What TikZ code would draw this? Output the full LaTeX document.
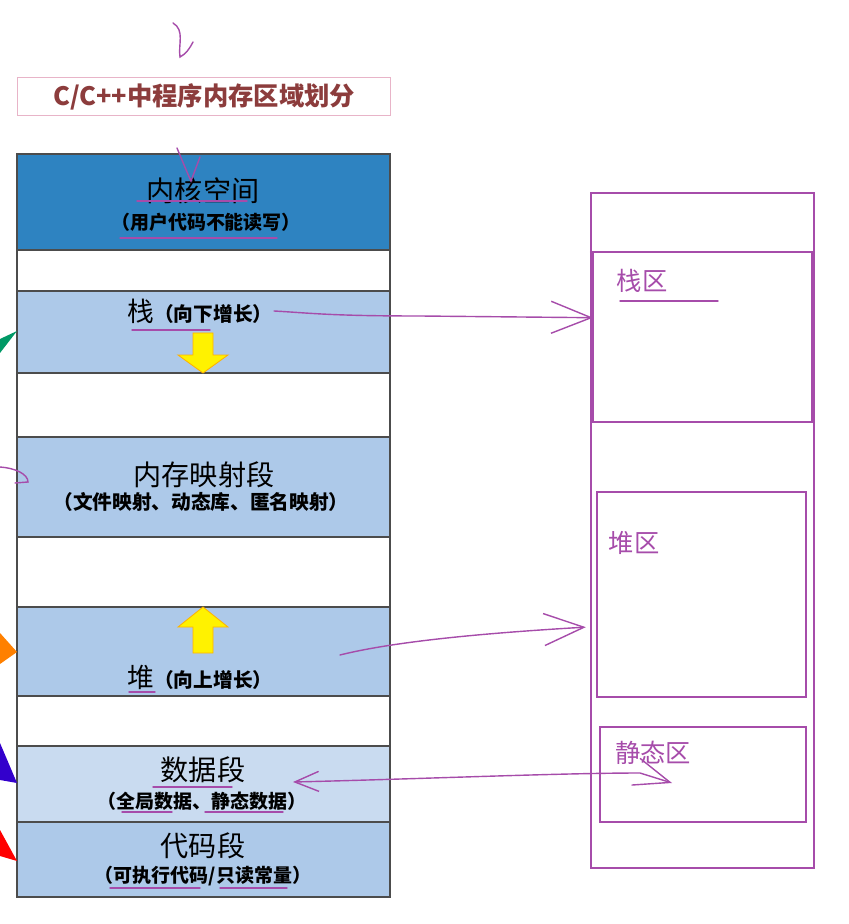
\documentclass[tikz,border=0pt]{standalone}
\usepackage{fontspec}
\setmainfont{Noto Sans CJK SC}
\usetikzlibrary{arrows.meta,positioning}
\definecolor{kernelblue}{RGB}{46,131,193}
\definecolor{segblue}{RGB}{173,201,233}
\definecolor{datablue}{RGB}{201,219,240}
\definecolor{pen}{RGB}{166,76,170}
\definecolor{titlered}{RGB}{140,60,60}
\definecolor{titlepink}{RGB}{232,180,200}

\begin{document}
\begin{tikzpicture}[x=0.025cm,y=-0.025cm,
  seg/.style={draw=black!70,line width=1pt,inner sep=0pt,outer sep=0pt,
    minimum width=9.325cm,minimum height=#1*0.025cm},
  zone/.style={draw=pen,line width=1.5pt,anchor=north west,inner sep=0pt,outer sep=0pt},
  big/.style={inner sep=1pt,font=\fontsize{20}{24}\selectfont},
  sub/.style={inner sep=1pt,font=\bfseries\fontsize{13.5}{16}\selectfont},
  zonetxt/.style={text=pen,inner sep=1pt,font=\fontsize{18}{22}\selectfont},
  growarrow/.style={fill=yellow,draw=orange!60!yellow,line width=0.6pt},
  pen/.style={draw=pen,line width=1pt,line cap=round},
  barb/.style={pen,-{Straight Barb[length=10mm,width=8mm]}}
]
\useasboundingbox (0,0) rectangle (848,924);

% title
\node[draw=titlepink,line width=0.8pt,anchor=north west,minimum width=9.325cm,
  minimum height=0.95cm,text=titlered,font=\bfseries\fontsize{18}{21}\selectfont]
  (title) at (17,77) {C/C++中程序内存区域划分};

% left column: the segments
\node[seg=96,fill=kernelblue,anchor=north west] (kernel) at (17,154) {};
\node[seg=41,below=0pt of kernel] (gapa) {};
\node[seg=82,fill=segblue,below=0pt of gapa] (stack) {};
\node[seg=64,below=0pt of stack] (gapb) {};
\node[seg=100,fill=segblue,below=0pt of gapb] (mmap) {};
\node[seg=70,below=0pt of mmap] (gapc) {};
\node[seg=89,fill=segblue,below=0pt of gapc] (heap) {};
\node[seg=50,below=0pt of heap] (gapd) {};
\node[seg=76,fill=datablue,below=0pt of gapd] (data) {};
\node[seg=75,fill=segblue,below=0pt of data] (code) {};

\node[big] (kerneltxt) at (203,191) {内核空间};
\node[sub] (kernelsub) at (206,222) {（用户代码不能读写）};
\node[inner sep=1pt] (stacktxt) at (200,311)
  {\fontsize{19}{22}\selectfont 栈\fontsize{14}{16}\selectfont\bfseries（向下增长）};
\node[big] (mmaptxt) at (204,475) {内存映射段};
\node[sub,font=\bfseries\fontsize{14}{16}\selectfont] (mmapsub) at (201,502)
  {（文件映射、动态库、匿名映射）};
\node[inner sep=1pt] (heaptxt) at (200,677)
  {\fontsize{19}{22}\selectfont 堆\fontsize{14}{16}\selectfont\bfseries（向上增长）};
\node[big] (datatxt) at (203,770) {数据段};
\node[sub] (datasub) at (202,801) {（全局数据、静态数据）};
\node[big] (codetxt) at (203,846) {代码段};
\node[sub] (codesub) at (203,876) {（可执行代码/只读常量）};

% growth arrows
\filldraw[growarrow] (193,333) -- (213,333) -- (213,355) -- (228,355) -- (203,373)
  -- (178,355) -- (193,355) -- cycle;
\filldraw[growarrow] (193,653) -- (213,653) -- (213,627) -- (228,627) -- (203,607)
  -- (178,627) -- (193,627) -- cycle;

% cut-off arrows at the left edge
\fill[teal!80!green] (17,331) -- (0,339) -- (0,353) -- cycle;
\fill[orange] (17,652) -- (0,633) -- (0,664) -- cycle;
\fill[blue!60!violet] (17,783) -- (0,743) -- (0,780) -- cycle;
\fill[red] (17,861) -- (0,830) -- (0,856) -- cycle;

% right column
\node[zone,minimum width=5.575cm,minimum height=16.875cm] (space) at (591,193) {};
\draw[pen,line width=1.5pt] (591,252) -- (814,252);
\node[zone,line width=2pt,minimum width=5.475cm,minimum height=4.25cm] (stackzone) at (593,252) {};
\node[zone,minimum width=5.225cm,minimum height=5.125cm] (heapzone) at (597,492) {};
\node[zone,minimum width=5.15cm,minimum height=2.375cm] (staticzone) at (600,727) {};
\node[zonetxt] (stackname) at (642,281) {栈区};
\node[zonetxt] (heapname) at (634,543) {堆区};
\node[zonetxt] (staticname) at (653,753) {静态区};

% pen marks
\draw[pen] (173,23) .. controls (185,30) and (178,45) .. (180,57)
  .. controls (186,54) and (190,48) .. (193,42);
\draw[pen] (177,148) .. controls (182,160) and (186,170) .. (191,181) -- (200,157);
\draw[pen] (0,467) .. controls (15,468) and (28,474) .. (28,482) -- (15,483);
\draw[pen] (137,201) -- (247,201);
\draw[pen] (120,238) -- (277,238);
\draw[pen] (132,330) -- (210,330);
\draw[pen] (129,692) -- (155,692);
\draw[pen] (153,787) -- (232,787);
\draw[pen] (122,812) -- (172,812);
\draw[pen] (205,812) -- (283,812);
\draw[pen] (110,888) -- (200,888);
\draw[pen] (220,888) -- (287,888);
\draw[pen] (620,301) -- (718,301);

% connectors
\draw[barb] (stacktxt.east) .. controls (310,313) and (330,316) .. (420,316)
  -- (stackzone.170);
\coordinate (heapfrom) at (340,655);
\draw[barb,shorten >=0.28cm] (heapfrom) .. controls (380,645) and (450,635) .. (heapzone.197);
\coordinate (datafrom) at (293,782);
\coordinate (staticto) at (672,783);
\draw[pen,{Straight Barb[length=6mm,width=5mm]}-{Straight Barb[length=9mm,width=7mm]}]
  (datafrom) .. controls (420,779) and (560,773) .. (640,773) -- (staticto);
\end{tikzpicture}
\end{document}
